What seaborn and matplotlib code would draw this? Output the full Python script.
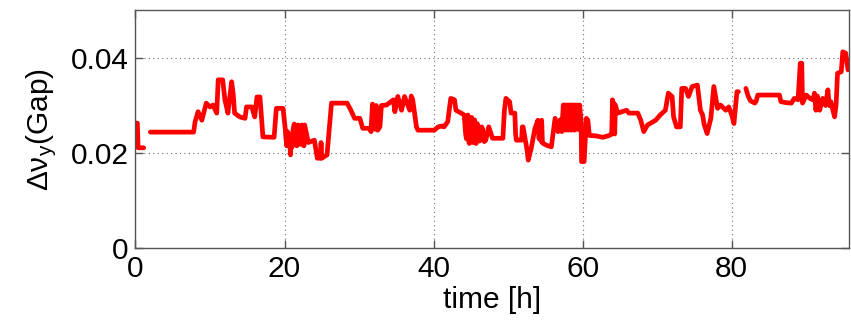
import numpy as np
import pandas as pd
import matplotlib
matplotlib.use("Agg")
import matplotlib.pyplot as plt
import seaborn as sns

# Tune gap measurement over a four-day run, three recorded stretches.
# Each entry is (time in hours, gap value).
run1_points = [(0.0, 0.0263), (0.25, 0.0263), (0.35, 0.0211), (1.1, 0.0211)]

run2_points = [
    (2.0, 0.0244), (7.8, 0.0244), (8.0, 0.0266), (8.4, 0.0287), (8.9, 0.0269),
    (9.5, 0.0305), (10.0, 0.0297), (10.4, 0.0301), (10.9, 0.0284), (11.1, 0.0354),
    (11.7, 0.0354), (12.0, 0.0312), (12.4, 0.0284), (12.9, 0.0350), (13.1, 0.0326),
    (13.3, 0.0284), (14.0, 0.0276), (14.7, 0.0273), (14.9, 0.0297), (15.6, 0.0297),
    (16.0, 0.0276), (16.3, 0.0318), (16.7, 0.0318), (17.1, 0.0234), (18.6, 0.0233),
    (18.9, 0.0294), (19.8, 0.0294), (20.1, 0.0250), (20.2, 0.0228), (20.3, 0.0215),
    (20.4, 0.0245), (20.5, 0.0220), (20.65, 0.0240), (20.8, 0.0196), (20.9, 0.0238),
    (21.0, 0.0212), (21.15, 0.0250), (21.3, 0.0261), (21.4, 0.0220), (21.5, 0.0250),
    (21.65, 0.0215), (21.8, 0.0259), (21.9, 0.0225), (22.0, 0.0255), (22.15, 0.0218),
    (22.3, 0.0259), (22.4, 0.0224), (22.5, 0.0257), (22.6, 0.0215), (22.7, 0.0259),
    (23.2, 0.0222), (24.0, 0.0227), (24.4, 0.0189), (24.8, 0.0189), (24.9, 0.0222),
    (25.0, 0.0189), (25.7, 0.0196), (26.3, 0.0305), (28.4, 0.0305), (28.9, 0.0290),
    (29.4, 0.0273), (30.1, 0.0273), (30.5, 0.0252), (31.4, 0.0252), (31.6, 0.0245),
    (31.8, 0.0303), (32.1, 0.0250), (32.3, 0.0300), (32.5, 0.0248), (32.8, 0.0255),
    (33.0, 0.0300), (33.7, 0.0301), (34.6, 0.0312), (34.8, 0.0287), (35.2, 0.0319),
    (35.7, 0.0290), (36.1, 0.0319), (36.8, 0.0290), (37.0, 0.0320), (37.2, 0.0312),
    (37.7, 0.0255), (37.9, 0.0248), (40.1, 0.0248), (40.6, 0.0255), (41.2, 0.0257),
    (41.4, 0.0255), (41.9, 0.0266), (42.3, 0.0315), (42.8, 0.0312), (43.0, 0.0290),
    (43.7, 0.0284), (44.1, 0.0280), (44.3, 0.0240), (44.4, 0.0230), (44.5, 0.0275),
    (44.6, 0.0280), (44.7, 0.0225), (44.8, 0.0220), (44.95, 0.0270), (45.1, 0.0275),
    (45.2, 0.0228), (45.3, 0.0222), (45.4, 0.0268), (45.5, 0.0270), (45.6, 0.0225),
    (45.7, 0.0220), (45.85, 0.0262), (46.0, 0.0255), (46.15, 0.0225), (46.3, 0.0228),
    (46.45, 0.0255), (46.6, 0.0250), (46.8, 0.0224), (47.0, 0.0227), (47.4, 0.0255),
    (47.9, 0.0231), (49.3, 0.0231), (49.5, 0.0290), (49.7, 0.0315), (50.2, 0.0308),
    (50.4, 0.0284), (50.9, 0.0284), (51.0, 0.0240), (51.1, 0.0227), (51.8, 0.0227),
    (51.9, 0.0255), (52.0, 0.0255), (52.5, 0.0210), (52.7, 0.0185), (53.1, 0.0210),
    (53.6, 0.0252), (54.0, 0.0269), (54.15, 0.0230), (54.3, 0.0265), (54.4, 0.0225),
    (54.5, 0.0269), (54.6, 0.0222), (54.7, 0.0220), (55.2, 0.0216), (55.8, 0.0213),
    (56.3, 0.0273), (56.7, 0.0245), (57.0, 0.0270), (57.2, 0.0245), (57.4, 0.0301),
    (57.5, 0.0250), (57.6, 0.0301), (57.7, 0.0248), (57.8, 0.0301), (57.9, 0.0252),
    (58.0, 0.0301), (58.1, 0.0248), (58.2, 0.0301), (58.3, 0.0250), (58.4, 0.0301),
    (58.5, 0.0248), (58.6, 0.0301), (58.7, 0.0250), (58.8, 0.0301), (58.9, 0.0248),
    (59.0, 0.0301), (59.1, 0.0252), (59.2, 0.0301), (59.3, 0.0250), (59.4, 0.0301),
    (59.5, 0.0250), (59.6, 0.0301), (59.8, 0.0265), (59.85, 0.0182), (60.2, 0.0182),
    (60.5, 0.0273), (60.7, 0.0269), (60.9, 0.0237), (61.8, 0.0236), (62.7, 0.0233),
    (63.6, 0.0237), (63.9, 0.0240), (64.0, 0.0312), (64.1, 0.0245), (64.2, 0.0305),
    (64.3, 0.0240), (64.4, 0.0300), (64.7, 0.0284), (65.9, 0.0290), (66.2, 0.0284),
    (67.4, 0.0284), (67.8, 0.0269), (68.2, 0.0245), (68.7, 0.0259), (69.8, 0.0269),
    (70.4, 0.0280), (71.1, 0.0290), (71.5, 0.0326), (72.0, 0.0319), (72.2, 0.0276),
    (72.6, 0.0255), (73.1, 0.0255), (73.3, 0.0336), (73.8, 0.0336), (74.2, 0.0319),
    (74.7, 0.0340), (75.4, 0.0343), (75.8, 0.0290), (76.1, 0.0280), (76.3, 0.0260),
    (76.7, 0.0241), (77.2, 0.0273), (77.6, 0.0340), (78.1, 0.0294), (78.5, 0.0301),
    (79.2, 0.0290), (79.6, 0.0297), (80.0, 0.0280), (80.3, 0.0262), (80.7, 0.0329),
    (80.9, 0.0329),
]

run3_points = [
    (81.9, 0.0336), (82.2, 0.0320), (82.5, 0.0310), (83.1, 0.0305), (83.3, 0.0310),
    (83.5, 0.0322), (86.4, 0.0322), (86.6, 0.0308), (87.3, 0.0306), (88.0, 0.0305),
    (88.4, 0.0315), (88.9, 0.0312), (89.2, 0.0389), (89.4, 0.0389), (89.5, 0.0305),
    (90.0, 0.0322), (90.5, 0.0315), (90.9, 0.0312), (91.1, 0.0326), (91.3, 0.0290),
    (91.5, 0.0320), (91.8, 0.0290), (92.2, 0.0315), (92.6, 0.0300), (92.9, 0.0333),
    (93.1, 0.0300), (93.3, 0.0308), (93.8, 0.0276), (94.0, 0.0300), (94.2, 0.0368),
    (94.7, 0.0371), (94.9, 0.0413), (95.3, 0.0410), (95.6, 0.0375),
]

x_ticks = [0, 20, 40, 60, 80]
y_ticks = [0, 0.02, 0.04]
y_tick_labels = ["0", "0.02", "0.04"]

runs = [run1_points, run2_points, run3_points]
df = pd.concat(
    [pd.DataFrame(pts, columns=["time", "gap"]).assign(run=i) for i, pts in enumerate(runs)],
    ignore_index=True,
)

sns.set_theme(style="white")
plt.rcParams["font.family"] = ["Liberation Sans", "DejaVu Sans"]
plt.rcParams["mathtext.fontset"] = "custom"
plt.rcParams["mathtext.rm"] = "Liberation Sans"
plt.rcParams["mathtext.it"] = "Liberation Sans:italic"
plt.rcParams["text.color"] = "black"
plt.rcParams["axes.labelcolor"] = "black"

fig = plt.figure(figsize=(8.51, 3.22), dpi=100)
ax = fig.add_axes([0.1592, 0.2298, 0.8390, 0.7376])

sns.lineplot(data=df, x="time", y="gap", units="run", estimator=None, sort=False,
             color="#ff0000", linewidth=3.4, ax=ax)

ax.set_xlim(0, 95.8)
ax.set_ylim(0, 0.05)
ax.set_xticks(x_ticks)
ax.set_xticklabels([str(v) for v in x_ticks])
ax.set_yticks(y_ticks)
ax.set_yticklabels(y_tick_labels)

ax.grid(True, linestyle=(0, (1, 3)), color="#707070", linewidth=0.8)
for s in ax.spines.values():
    s.set_visible(True)
    s.set_color("#555555")
    s.set_linewidth(1.0)

ax.tick_params(axis="both", direction="in", length=6, width=1, color="#555555",
               top=True, right=True, bottom=True, left=True,
               labelsize=21.5, labelcolor="black", pad=5)

ax.set_xlabel("time [h]", fontsize=21.5, labelpad=2, color="black")
ax.set_ylabel(r"Δν$_\mathregular{y}$(Gap)", fontsize=21.5, labelpad=8, color="black")

fig.savefig("out.png", dpi=100)
